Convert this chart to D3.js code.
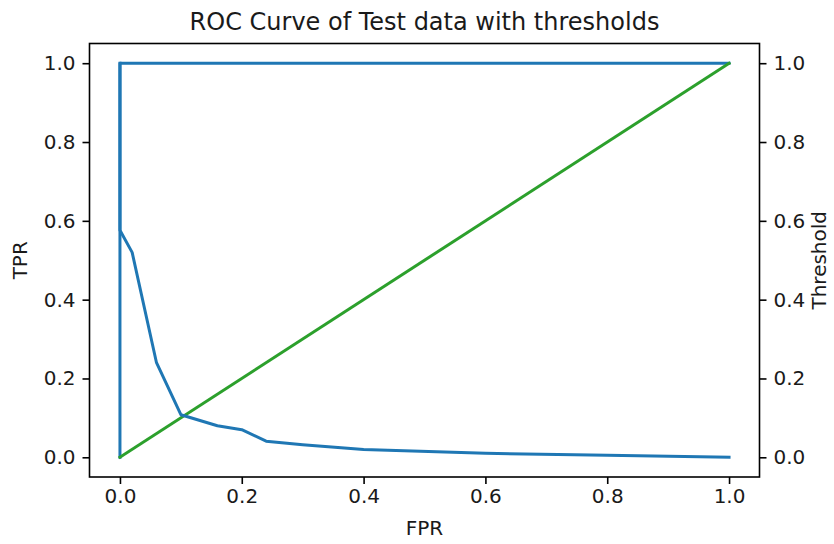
<!DOCTYPE html>
<html>
<head>
<meta charset="utf-8">
<script src="https://cdn.jsdelivr.net/npm/d3@7"></script>
<style>
  body { margin: 0; background: #fff; }
  text { font-family: "DejaVu Sans", sans-serif; fill: #1a1a1a; }
</style>
</head>
<body>
<div id="chart"></div>
<script>
// ROC curve points
var rocFpr = [0, 0, 1]
var rocTpr = [0, 1, 1]

// chance line
var diagFpr = [0, 1]
var diagTpr = [0, 1]

// thresholds vs fpr (right axis)
var thrFpr = [0, 0, 0.02, 0.06, 0.10, 0.16, 0.20, 0.24, 0.30, 0.40, 0.60, 0.80, 1.0]
var thrVal = [1.0, 0.576, 0.52, 0.24, 0.108, 0.08, 0.07, 0.041, 0.032, 0.02, 0.01, 0.005, 0.0]

var tickVals = [0, 0.2, 0.4, 0.6, 0.8, 1.0]

var width = 834, height = 544
// plot area (careful: "top" is a reserved window global)
var plotL = 89.5, plotR = 759.5, plotT = 43.5, plotB = 477

var svg = d3.select("#chart")
  .append("svg")
    .attr("width", width)
    .attr("height", height)

// matplotlib style 5% margins on both sides
var x = d3.scaleLinear().domain([-0.05, 1.05]).range([plotL, plotR])
var y = d3.scaleLinear().domain([-0.05, 1.05]).range([plotB, plotT])
var y2 = d3.scaleLinear().domain([-0.05, 1.05]).range([plotB, plotT])

var line = d3.line()
  .x(function(d) { return x(d[0]) })
  .y(function(d) { return y(d[1]) })

var line2 = d3.line()
  .x(function(d) { return x(d[0]) })
  .y(function(d) { return y2(d[1]) })

var plot = svg.append("g")

plot.append("path")
  .datum(d3.zip(rocFpr, rocTpr))
  .attr("d", line)
  .attr("fill", "none")
  .attr("stroke", "#1f77b4")
  .attr("stroke-width", 3)
  .attr("stroke-linejoin", "round")
  .attr("stroke-linecap", "square")

plot.append("path")
  .datum(d3.zip(diagFpr, diagTpr))
  .attr("d", line)
  .attr("fill", "none")
  .attr("stroke", "#2ca02c")
  .attr("stroke-width", 3)
  .attr("stroke-linecap", "square")

plot.append("path")
  .datum(d3.zip(thrFpr, thrVal))
  .attr("d", line2)
  .attr("fill", "none")
  .attr("stroke", "#1f77b4")
  .attr("stroke-width", 3)
  .attr("stroke-linejoin", "round")
  .attr("stroke-linecap", "square")

// axes
var fmt = d3.format(".1f")

function styleAxis(g) {
  g.select(".domain").remove()
  g.selectAll(".tick line").attr("stroke", "#000").attr("stroke-width", 1.6)
  g.selectAll(".tick text")
    .style("font-size", "20px")
    .style("font-family", "DejaVu Sans, sans-serif")
    .attr("fill", "#1a1a1a")
}

svg.append("g")
  .attr("transform", "translate(0," + plotB + ")")
  .call(d3.axisBottom(x).tickValues(tickVals).tickFormat(fmt).tickSize(7).tickPadding(5))
  .call(styleAxis)

svg.append("g")
  .attr("transform", "translate(" + plotL + ",0)")
  .call(d3.axisLeft(y).tickValues(tickVals).tickFormat(fmt).tickSize(7).tickPadding(7))
  .call(styleAxis)

svg.append("g")
  .attr("transform", "translate(" + plotR + ",0)")
  .call(d3.axisRight(y2).tickValues(tickVals).tickFormat(fmt).tickSize(7).tickPadding(7))
  .call(styleAxis)

// frame
svg.append("rect")
  .attr("x", plotL)
  .attr("y", plotT)
  .attr("width", plotR - plotL)
  .attr("height", plotB - plotT)
  .attr("fill", "none")
  .attr("stroke", "#000")
  .attr("stroke-width", 1.6)

// labels
svg.append("text")
  .attr("x", (plotL + plotR) / 2)
  .attr("y", 30)
  .attr("text-anchor", "middle")
  .style("font-size", "24px")
  .text("ROC Curve of Test data with thresholds")

svg.append("text")
  .attr("x", (plotL + plotR) / 2)
  .attr("y", 535)
  .attr("text-anchor", "middle")
  .style("font-size", "20px")
  .text("FPR")

svg.append("text")
  .attr("transform", "translate(27," + (plotT + plotB) / 2 + ") rotate(-90)")
  .attr("text-anchor", "middle")
  .style("font-size", "20px")
  .text("TPR")

svg.append("text")
  .attr("transform", "translate(826," + (plotT + plotB) / 2 + ") rotate(-90)")
  .attr("text-anchor", "middle")
  .style("font-size", "20px")
  .text("Threshold")
</script>
</body>
</html>
